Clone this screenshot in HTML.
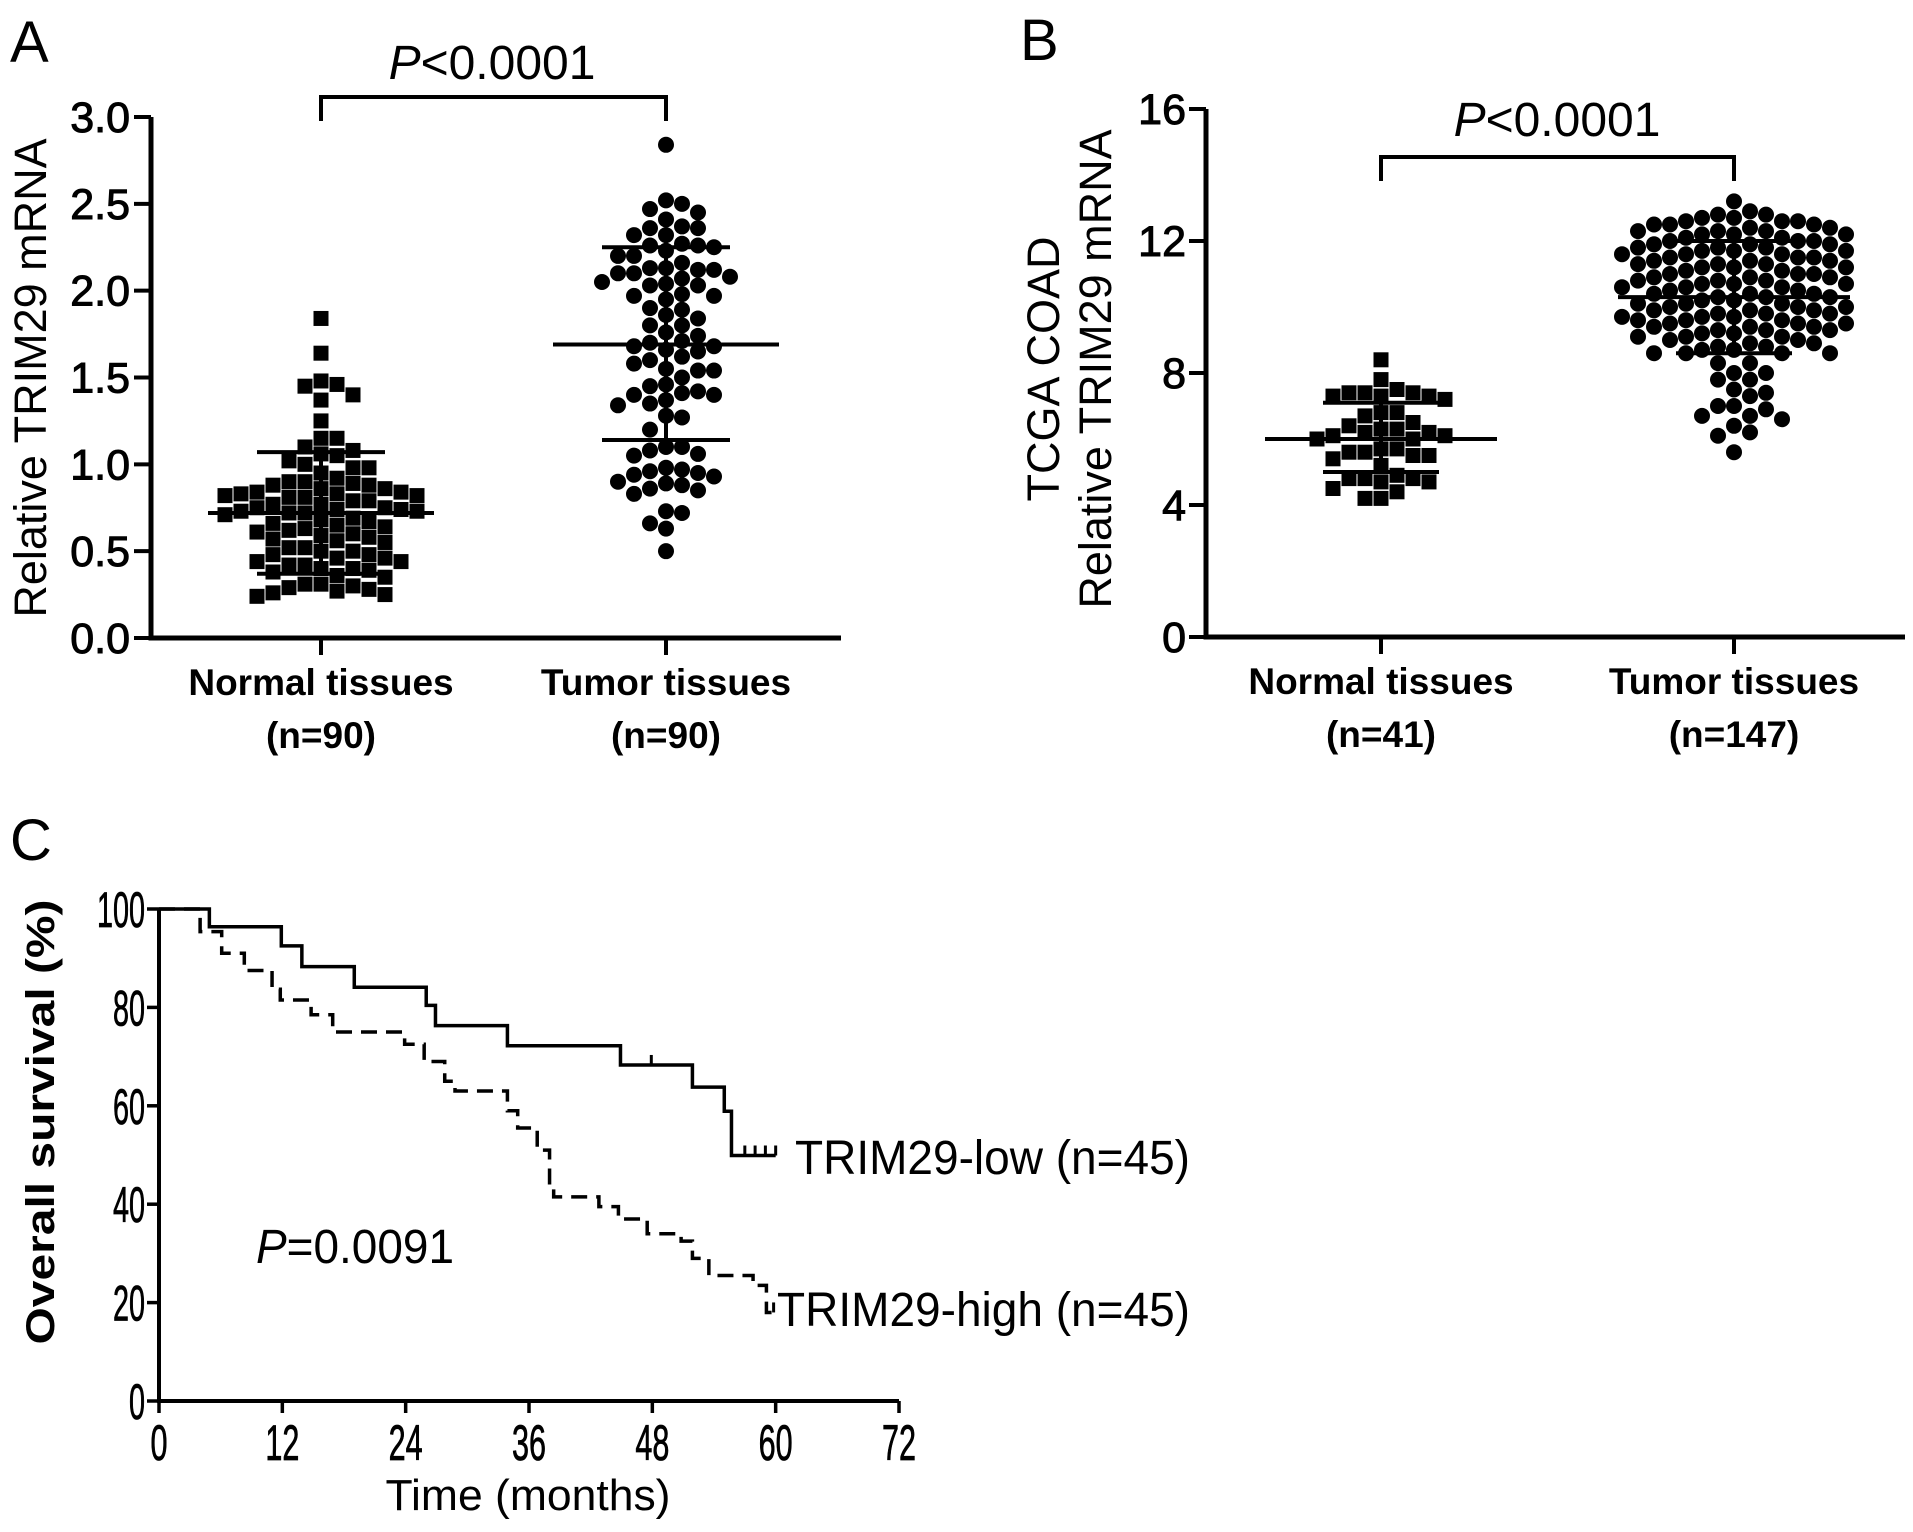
<!DOCTYPE html>
<html><head><meta charset="utf-8"><style>
html,body{margin:0;padding:0;background:#fff}
svg{display:block}
text{font-family:"Liberation Sans",Arial,sans-serif;fill:#000}
</style></head><body>
<svg id="fig" width="1913" height="1532" viewBox="0 0 1913 1532" xmlns="http://www.w3.org/2000/svg">
<g id="pa">
 <text x="10" y="62" font-size="58">A</text>
 <text x="492" y="79" font-size="48" text-anchor="middle"><tspan font-style="italic">P</tspan>&lt;0.0001</text>
 <text transform="translate(46,378) rotate(-90)" font-size="45" text-anchor="middle">Relative TRIM29 mRNA</text>
</g>
<g id="pb">
 <text x="1020" y="60" font-size="58">B</text>
 <text x="1557" y="136" font-size="48" text-anchor="middle"><tspan font-style="italic">P</tspan>&lt;0.0001</text>
 <text transform="translate(1059,369) rotate(-90)" font-size="45" text-anchor="middle">TCGA COAD</text>
 <text transform="translate(1111,369) rotate(-90)" font-size="45" text-anchor="middle">Relative TRIM29 mRNA</text>
</g>
<g id="pc">
 <text x="10" y="860" font-size="58">C</text>
 <text x="256" y="1263" font-size="48" textLength="198" lengthAdjust="spacingAndGlyphs"><tspan font-style="italic">P</tspan>=0.0091</text>
 <text transform="translate(54,1122) rotate(-90)" font-size="40" font-weight="bold" text-anchor="middle" textLength="445" lengthAdjust="spacingAndGlyphs">Overall survival (%)</text>
 <text x="528" y="1510" font-size="44" text-anchor="middle" textLength="285" lengthAdjust="spacingAndGlyphs">Time (months)</text>
 <text x="795" y="1174" font-size="48" textLength="395" lengthAdjust="spacingAndGlyphs">TRIM29-low (n=45)</text>
 <text x="777" y="1326" font-size="48" textLength="413" lengthAdjust="spacingAndGlyphs">TRIM29-high (n=45)</text>
</g>
</svg>
<script>
// ---------- Panel A data ----------
const aCategories = ["Normal tissues", "Tumor tissues"];
const aCounts = ["(n=90)", "(n=90)"];
const aTicks = [0, 0.5, 1.0, 1.5, 2.0, 2.5, 3.0];
const aNormal = [1.84,1.64,1.48,1.46,1.45,1.40,1.37,1.25,1.15,1.15,
 1.10,1.08,1.06,1.05,1.02,1.00,0.98,0.98,0.95,0.92,0.90,
 0.90,0.88,0.86,0.84,0.83,0.82,0.81,0.81,0.82,0.83,0.84,0.86,0.88,0.89,
 0.79,0.77,0.75,0.74,0.73,0.72,0.71,0.72,0.73,0.74,0.75,0.77,0.79,
 0.68,0.66,0.64,0.62,0.60,0.58,0.56,0.55,0.57,0.59,0.61,0.63,0.65,0.67,0.69,
 0.52,0.50,0.48,0.46,0.44,0.42,0.40,0.39,0.38,0.40,0.42,0.44,0.46,0.48,0.50,0.52,
 0.35,0.31,0.29,0.27,0.25,0.24,0.26,0.28,0.30,0.31,0.36];
const aTumor = [2.84,2.52,2.50,2.47,2.45,2.41,2.37,2.36,2.36,2.32,2.32,2.27,2.26,2.26,2.25,2.23,2.20,2.20,
 2.13,2.13,2.12,2.12,2.10,2.10,2.08,2.07,2.05,2.04,2.03,2.03,1.98,1.97,1.97,1.90,1.89,1.86,1.84,1.80,1.80,
 1.76,1.74,1.71,1.70,1.68,1.68,1.66,1.65,1.62,1.60,1.55,1.54,1.54,1.50,1.46,1.45,1.42,1.41,1.40,1.40,1.37,
 1.35,1.34,1.28,1.27,1.10,1.10,1.08,1.06,1.05,0.98,0.97,0.96,0.95,0.94,0.93,0.90,0.89,0.88,0.86,0.85,0.83,
 0.73,0.72,0.66,0.63,0.50,1.20,1.95,2.16,1.58];
const aMean = [0.72, 1.69];
const aSdLow = [0.37, 1.14];
const aSdHigh = [1.07, 2.25];
// ---------- Panel B data ----------
const bCategories = ["Normal tissues", "Tumor tissues"];
const bCounts = ["(n=41)", "(n=147)"];
const bTicks = [0, 4, 8, 12, 16];
const bNormal = [8.4,7.8,7.5,7.4,7.4,7.4,7.3,7.3,7.3,7.2,6.8,6.8,6.7,6.5,6.4,6.3,6.3,6.2,6.2,6.1,6.1,6.0,6.0,
 5.7,5.7,5.6,5.6,5.5,5.5,5.4,5.2,4.9,4.8,4.8,4.8,4.7,4.7,4.5,4.4,4.2,4.2];
const bTumor = [13.2,12.9,12.8,12.8,12.7,12.7,12.6,12.6,12.5,12.5,
 12.4,12.4,12.3,12.3,12.2,12.2,12.1,12.1,12.0,12.0,11.9,11.9,11.8,11.8,11.7,11.7,
 11.6,11.6,11.5,11.5,11.4,11.4,11.3,11.3,11.2,11.2,11.1,11.1,11.0,11.0,10.9,10.9,
 10.8,10.8,10.7,10.7,10.6,10.6,10.5,10.5,10.4,10.4,10.3,10.3,10.2,10.2,10.1,10.1,
 10.0,10.0,9.9,9.9,9.8,9.8,9.7,9.7,9.6,9.6,9.5,9.5,9.4,9.4,9.3,9.3,9.2,9.2,9.1,9.1,
 9.0,9.0,8.9,8.9,8.8,8.8,8.7,8.7,8.6,8.6,
 12.5,12.3,11.8,11.5,11.2,10.9,10.6,10.3,10.0,9.7,9.4,9.1,12.0,11.6,11.0,10.4,9.8,9.3,10.8,11.4,
 12.2,11.9,10.1,9.6,12.6,11.3,10.7,9.9,9.5,11.7,
 8.6,8.6,8.3,8.3,8.0,8.0,7.8,7.8,7.5,7.4,7.3,7.0,7.0,6.9,6.7,6.7,6.6,6.4,6.2,6.1,5.6];
const bMean = [6.0, 10.3];
const bSdLow = [5.0, 8.6];
const bSdHigh = [7.1, 12.0];
// ---------- Panel C data ----------
const cXTicks = [0, 12, 24, 36, 48, 60, 72];
const cYTicks = [0, 20, 40, 60, 80, 100];
const lowTimes = [0,4.9,11.9,13.9,19,26,26.9,33.9,44.9,51.9,55,55.7];
const lowSurv  = [100,96.4,92.5,88.3,84.1,80.4,76.3,72.2,68.3,63.8,58.9,49.9];
const lowEnd = 60;
const lowCensor = [47.9,57,58,59,60];
const highTimes = [0,4,6.1,8.3,11,11.8,14.8,16.9,23.9,25.8,27.8,28.8,33.9,34.9,36.8,38,38.4,42.8,44.7,47.5,50.8,51.9,53.5,57.8,59.1];
const highSurv  = [100,95.4,91,87.5,83.7,81.5,78.5,75,72.5,69,65,63,59,55.5,51,43.5,41.5,39.5,37,34,32.5,29,25.5,23.5,18];
const highEnd = 59.8;
const highCensor = [59.8];

const NS = "http://www.w3.org/2000/svg";
function mk(parent, tag, attrs) {
  const el = document.createElementNS(NS, tag);
  for (const k in attrs) el.setAttribute(k, attrs[k]);
  parent.appendChild(el);
  return el;
}
function txt(parent, x, y, s, size, anchor, weight) {
  const t = mk(parent, "text", {x: x, y: y, "font-size": size, "text-anchor": anchor || "middle"});
  if (weight) t.setAttribute("font-weight", weight);
  t.textContent = s;
  return t;
}

function beeswarm(values, cx, yFn, size) {
  const order = values.map((v, i) => i).sort((a, b) => values[b] - values[a]);
  const placed = [];
  const pos = new Array(values.length);
  for (const i of order) {
    const y = yFn(values[i]);
    for (let k = 0; k < 60; k++) {
      const off = (k === 0) ? 0 : (k % 2 ? 1 : -1) * Math.ceil(k / 2) * size;
      const x = cx + off;
      let ok = true;
      for (const p of placed) {
        if (Math.abs(p[0] - x) < size - 0.5 && Math.abs(p[1] - y) < size - 0.5) { ok = false; break; }
      }
      if (ok) { placed.push([x, y]); pos[i] = [x, y]; break; }
    }
  }
  return pos;
}

function dotPanel(g, cfg) {
  const {x0, x1, yTop, yBot, vmax, ticks, fmt, cats, counts, cx, data, shapes, mean, sdL, sdH, meanHW, sdHW, bracketY, tickRight} = cfg;
  const y = v => yBot - v / vmax * (yBot - yTop);
  const ax = mk(g, "path", {d: `M${x0},${yTop} V${yBot} H${x1}`, fill: "none", stroke: "#000", "stroke-width": 5});
  
  
  ticks.forEach(t => {
    const tk = mk(g, "line", {x1: x0 - 17, x2: x0, y1: y(t), y2: y(t), stroke: "#000", "stroke-width": 4});
    
    
    const lb = txt(g, tickRight, y(t) + 15, fmt(t), 43, "end");
    lb.setAttribute("stroke", "#000");
    lb.setAttribute("stroke-width", "1");
    
    
  });
  cats.forEach((c, i) => {
    const tk = mk(g, "line", {x1: cx[i], x2: cx[i], y1: yBot, y2: yBot + 17, stroke: "#000", "stroke-width": 4});
    
    
    const l1 = txt(g, cx[i], yBot + 57, c, 37, "middle", "bold");
    
    
    const l2 = txt(g, cx[i], yBot + 110, counts[i], 37, "middle", "bold");
    
    
  });
  const br = mk(g, "path", {d: `M${cx[0]},${bracketY + 24} V${bracketY} H${cx[1]} V${bracketY + 24}`, fill: "none", stroke: "#000", "stroke-width": 4});
  
  
  data.forEach((vals, gi) => {
    const pos = beeswarm(vals, cx[gi], y, 16);
    pos.forEach(p => {
      if (!p) return;
      let m;
      if (shapes[gi] === "square") m = mk(g, "rect", {x: p[0] - 7.5, y: p[1] - 7.5, width: 15, height: 15, fill: "#000"});
      else m = mk(g, "circle", {cx: p[0], cy: p[1], r: 8, fill: "#000"});
      
      
    });
    const ml = mk(g, "line", {x1: cx[gi] - meanHW, x2: cx[gi] + meanHW, y1: y(mean[gi]), y2: y(mean[gi]), stroke: "#000", "stroke-width": 4});
    
    
    const sd = mk(g, "path", {d: `M${cx[gi]},${y(sdL[gi])} V${y(sdH[gi])} M${cx[gi] - sdHW},${y(sdL[gi])} H${cx[gi] + sdHW} M${cx[gi] - sdHW},${y(sdH[gi])} H${cx[gi] + sdHW}`, fill: "none", stroke: "#000", "stroke-width": 4});
    
    
  });
}

dotPanel(document.getElementById("pa"), {
  x0: 151, x1: 841, yTop: 117, yBot: 638, vmax: 3, ticks: aTicks, fmt: t => t.toFixed(1),
  cats: aCategories, counts: aCounts, cx: [321, 666], data: [aNormal, aTumor], shapes: ["square", "circle"],
  mean: aMean, sdL: aSdLow, sdH: aSdHigh, meanHW: 113, sdHW: 64, bracketY: 97, tickRight: 130
});
dotPanel(document.getElementById("pb"), {
  x0: 1206, x1: 1905, yTop: 109, yBot: 637, vmax: 16, ticks: bTicks, fmt: t => String(t),
  cats: bCategories, counts: bCounts, cx: [1381, 1734], data: [bNormal, bTumor], shapes: ["square", "circle"],
  mean: bMean, sdL: bSdLow, sdH: bSdHigh, meanHW: 116, sdHW: 58, bracketY: 157, tickRight: 1186
});

// ---------- Panel C ----------
(function () {
  const g = document.getElementById("pc");
  const xC = m => 159 + m * (899 - 159) / 72;
  const yC = p => 1401 - p * (1401 - 909) / 100;
  const ax = mk(g, "path", {d: `M${xC(0)},${yC(100)} V${yC(0)} H${xC(72)}`, fill: "none", stroke: "#000", "stroke-width": 4});
  
  
  cYTicks.forEach(t => {
    const tk = mk(g, "line", {x1: xC(0) - 12, x2: xC(0), y1: yC(t), y2: yC(t), stroke: "#000", "stroke-width": 3.5});
    
    
    const s = String(t);
    const lb = mk(g, "text", {x: xC(0) - 14, y: yC(t) + 18, "font-size": 50, "text-anchor": "end", textLength: s.length * 16, lengthAdjust: "spacingAndGlyphs", stroke: "#000", "stroke-width": 0.8});
    lb.textContent = s;
    
    
  });
  cXTicks.forEach(t => {
    const tk = mk(g, "line", {x1: xC(t), x2: xC(t), y1: yC(0), y2: yC(0) + 12, stroke: "#000", "stroke-width": 3.5});
    
    
    const s = String(t);
    const lb = mk(g, "text", {x: xC(t), y: 1460, "font-size": 50, "text-anchor": "middle", textLength: s.length * 17, lengthAdjust: "spacingAndGlyphs", stroke: "#000", "stroke-width": 0.8});
    lb.textContent = s;
    
    
  });
  function stepPath(times, surv, end) {
    let d = `M${xC(times[0])},${yC(surv[0])}`;
    for (let i = 1; i < times.length; i++) d += ` H${xC(times[i])} V${yC(surv[i])}`;
    d += ` H${xC(end)}`;
    return d;
  }
  const lo = mk(g, "path", {d: stepPath(lowTimes, lowSurv, lowEnd), fill: "none", stroke: "#000", "stroke-width": 3.5});
  
  
  const hi = mk(g, "path", {d: stepPath(highTimes, highSurv, highEnd), fill: "none", stroke: "#000", "stroke-width": 3.5, "stroke-dasharray": "16 9"});
  
  
  function survAt(times, surv, t) { let s = surv[0]; for (let i = 0; i < times.length; i++) if (times[i] <= t) s = surv[i]; return s; }
  lowCensor.forEach(t => {
    const s = survAt(lowTimes, lowSurv, t);
    const c = mk(g, "line", {x1: xC(t), x2: xC(t), y1: yC(s), y2: yC(s) - 10, stroke: "#000", "stroke-width": 3});
    
    
  });
  highCensor.forEach(t => {
    const s = survAt(highTimes, highSurv, t);
    const c = mk(g, "line", {x1: xC(t), x2: xC(t), y1: yC(s), y2: yC(s) - 10, stroke: "#000", "stroke-width": 3});
    
    
  });
})();
</script>
</body></html>
